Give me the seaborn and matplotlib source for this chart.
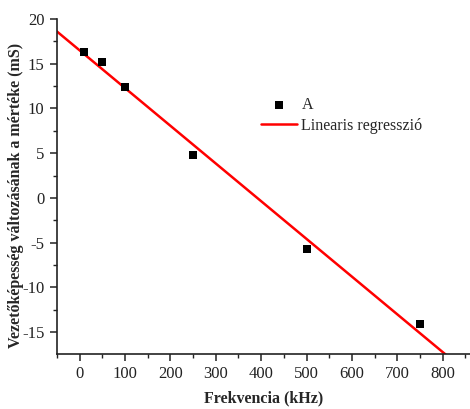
import numpy as np
import pandas as pd
import matplotlib
matplotlib.use("Agg")
import matplotlib.pyplot as plt
from matplotlib.ticker import MultipleLocator
import seaborn as sns

# Measured conductance change vs. frequency
freq_khz = [10, 50, 100, 250, 500, 750]
delta_ms = [16.36, 15.18, 12.45, 4.81, -5.74, -14.06]

x_ticks = [0, 100, 200, 300, 400, 500, 600, 700, 800]
y_ticks = [-15, -10, -5, 0, 5, 10, 15, 20]

sns.set_theme(style="ticks")
plt.rcParams["font.family"] = ["Liberation Serif", "DejaVu Serif"]
plt.rcParams["axes.unicode_minus"] = False

fig = plt.figure(figsize=(4.7, 4.09), dpi=100)
ax = fig.add_axes([0.121, 0.1345, 0.879, 0.819])

df = pd.DataFrame({"f": freq_khz, "g": delta_ms})

# Least-squares line through the measurements
slope, intercept = np.polyfit(df["f"], df["g"], 1)
xs = np.array([-50.0, 860.0])
fit = pd.DataFrame({"f": xs, "g": slope * xs + intercept})

sns.lineplot(data=fit, x="f", y="g", ax=ax, color="#ff0000", linewidth=1.8,
             label="Linearis regresszió", zorder=2)
sns.scatterplot(data=df, x="f", y="g", ax=ax, marker="s", s=28, color="black",
                edgecolor="black", linewidth=0, label="A", zorder=3)

ax.set_xlim(-50, 860)
ax.set_ylim(-17.45, 20)
ax.set_xticks(x_ticks)
ax.set_yticks(y_ticks)
ax.xaxis.set_minor_locator(MultipleLocator(50))
ax.yaxis.set_minor_locator(MultipleLocator(2.5))

for s in ["top", "right"]:
    ax.spines[s].set_visible(False)
for s in ["left", "bottom"]:
    ax.spines[s].set_linewidth(1.2)
    ax.spines[s].set_color("#222222")

ax.tick_params(which="major", direction="out", length=5, width=1.1,
               labelsize=12, colors="#222222", pad=4)
ax.tick_params(which="minor", direction="out", length=3, width=1.0,
               colors="#222222")

ax.set_xlabel("Frekvencia (kHz)", fontsize=11.5, fontweight="bold")
ax.xaxis.set_label_coords(0.5, -0.134)
ax.xaxis.label.set_verticalalignment("center")
ax.set_ylabel("Vezetőképesség változásának a mértéke (mS)", fontsize=11.5,
              fontweight="bold")
ax.yaxis.set_label_coords(-0.1, 0.472)
ax.yaxis.label.set_verticalalignment("center")

handles, labels = ax.get_legend_handles_labels()
order = [labels.index("A"), labels.index("Linearis regresszió")]
ax.legend([handles[i] for i in order], [labels[i] for i in order],
          loc="upper left", bbox_to_anchor=(0.478, 0.787), frameon=False,
          fontsize=11.5, handlelength=2.3, handletextpad=0.25,
          labelspacing=0.3, borderaxespad=0)

fig.savefig("out.png", dpi=100)
